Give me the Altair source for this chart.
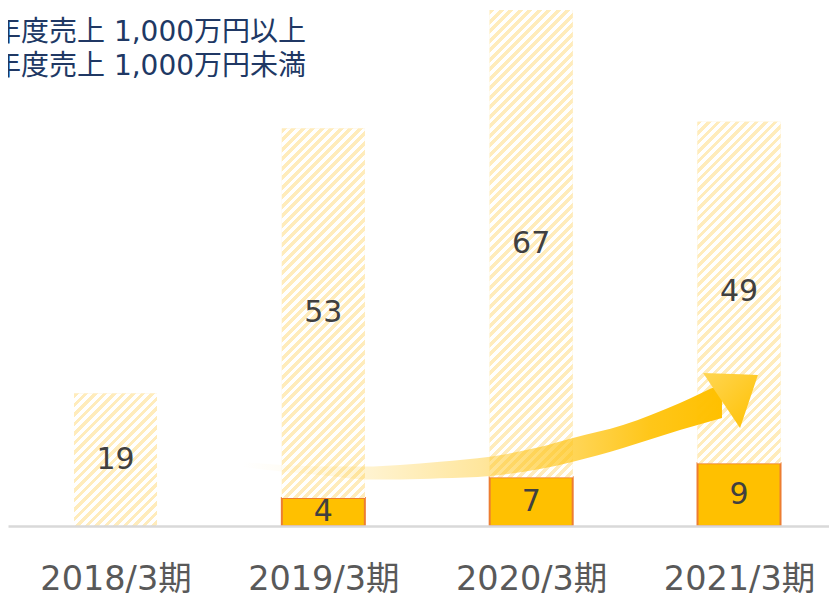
import json
import altair as alt
import pandas as pd

# ---------------- data ----------------
periods = ["2018/3期", "2019/3期", "2020/3期", "2021/3期"]
over_10m = [0, 4, 7, 9]        # 前年度売上 1,000万円以上
under_10m = [19, 53, 67, 49]   # 前年度売上 1,000万円未満
series_names = ["前年度売上 1,000万円以上", "前年度売上 1,000万円未満"]

# decorative growth arrow, in data units (x = period index, y = count)
arrow_x = [0.609, 0.801, 1.032, 1.200, 1.369, 1.561, 1.802, 2.042, 2.201, 2.442, 2.716, 2.918]
arrow_top = [9.18, 8.75, 8.53, 8.53, 8.75, 9.22, 9.94, 11.33, 12.62, 14.48, 17.64, 20.51]
arrow_bottom = [8.46, 7.82, 7.17, 6.67, 6.67, 6.84, 7.17, 8.17, 9.22, 11.19, 13.77, 15.49]
head_x = [2.827, 3.005, 3.091]
head_top = [21.94, 21.76, 21.66]
head_bottom = [21.94, 14.05, 21.66]

# ---------------- styling ----------------
W, H = 821, 518
X_DOMAIN = [-0.5173, 3.4330]
Y_MAX = 74.3
BAR_W = 83
PERIOD = 9.5
PALE = "#FFECBC"
SOLID = "#FFC000"
EDGE = "#ED7D31"
FONT = "DejaVu Sans, Noto Sans CJK JP"

rows = []
for i, p in enumerate(periods):
    if over_10m[i] > 0:
        rows.append(dict(period=p, idx=i, series=series_names[0], solid=True,
                         start=0, end=over_10m[i], mid=over_10m[i] / 2, value=over_10m[i]))
    if under_10m[i] > 0:
        rows.append(dict(period=p, idx=i, series=series_names[1], solid=False,
                         start=over_10m[i], end=over_10m[i] + under_10m[i],
                         mid=over_10m[i] + under_10m[i] / 2, value=under_10m[i]))
df = pd.DataFrame(rows)

xs = alt.Scale(domain=X_DOMAIN, nice=False, zero=False, padding=0)
ys = alt.Scale(domain=[0, Y_MAX], nice=False, zero=True, padding=0)

x_axis = alt.Axis(
    values=list(range(len(periods))),
    labelExpr=json.dumps(periods, ensure_ascii=False) + "[round(datum.value)]",
    title=None, ticks=False, tickSize=0, grid=False,
    domainColor="#D9D9D9", domainWidth=2.5,
    labelFontSize=33.5, labelColor="#595959", labelFont=FONT,
    labelBaseline="alphabetic",
    labelPadding=63, labelFlush=False, labelOverlap=False, zindex=1,
)

base = alt.Chart(df).mark_bar(width=BAR_W, strokeWidth=2).encode(
    x=alt.X("idx:Q", scale=xs, axis=x_axis),
    y=alt.Y("start:Q", scale=ys, axis=None),
    y2="end:Q",
    fill=alt.Fill(
        "series:N",
        scale=alt.Scale(domain=series_names, range=[SOLID, PALE]),
        legend=alt.Legend(
            orient="none", legendX=-79, legendY=10.5, title=None,
            symbolType="square", symbolSize=400, symbolStrokeWidth=0,
            labelFontSize=28, labelColor="#203864", labelFont=FONT,
            labelLimit=600, rowPadding=6, labelOffset=8, padding=0,
        ),
    ),
    stroke=alt.condition("datum.solid", alt.value(EDGE), alt.value("transparent")),
)

hatch_layers = []
for i, p in enumerate(periods):
    if under_10m[i] <= 0:
        continue
    h_px = under_10m[i] * H / Y_MAX
    r = h_px / BAR_W
    dt = PERIOD / BAR_W / (1 + r * r)
    stops = []
    k = 0
    while k * dt < 1:
        a, b, c = k * dt, (k + 0.5) * dt, (k + 1) * dt
        stops += [
            {"offset": min(a, 1), "color": PALE},
            {"offset": min(b, 1), "color": PALE},
            {"offset": min(b, 1), "color": "#FFFFFF"},
            {"offset": min(c, 1), "color": "#FFFFFF"},
        ]
        k += 1
    grad = {"gradient": "linear", "x1": 0, "y1": 0, "x2": 1, "y2": r, "stops": stops}
    layer = alt.Chart(df[(df.idx == i) & (~df.solid)]).mark_bar(width=BAR_W, fill=grad).encode(
        x=alt.X("idx:Q", scale=xs, axis=x_axis),
        y=alt.Y("start:Q", scale=ys, axis=None),
        y2="end:Q",
    )
    hatch_layers.append(layer)

shaft_grad = {
    "gradient": "linear", "x1": 0, "y1": 0, "x2": 1, "y2": 0,
    "stops": [
        {"offset": 0.0, "color": "rgba(255,200,40,0)"},
        {"offset": 0.1, "color": "rgba(255,200,40,0.05)"},
        {"offset": 0.25, "color": "rgba(255,198,30,0.2)"},
        {"offset": 0.5, "color": "rgba(255,195,20,0.42)"},
        {"offset": 0.7, "color": "rgba(255,194,10,0.7)"},
        {"offset": 0.85, "color": "rgba(255,192,0,0.9)"},
        {"offset": 1.0, "color": "rgba(255,192,0,1)"},
    ],
}
head_grad = {
    "gradient": "linear", "x1": 0, "y1": 0, "x2": 1, "y2": 1,
    "stops": [{"offset": 0, "color": "#FFD653"}, {"offset": 1, "color": "#FFC000"}],
}

arrow_df = pd.DataFrame({"ax": arrow_x, "at": arrow_top, "ab": arrow_bottom})
head_df = pd.DataFrame({"ax": head_x, "at": head_top, "ab": head_bottom})

shaft = alt.Chart(arrow_df).mark_area(interpolate="monotone", fill=shaft_grad).encode(
    x=alt.X("ax:Q", scale=xs, axis=x_axis),
    y=alt.Y("at:Q", scale=ys, axis=None),
    y2="ab:Q",
)
head = alt.Chart(head_df).mark_area(interpolate="linear", fill=head_grad).encode(
    x=alt.X("ax:Q", scale=xs, axis=x_axis),
    y=alt.Y("at:Q", scale=ys, axis=None),
    y2="ab:Q",
)

labels = alt.Chart(df).mark_text(fontSize=30, color="#404040", font=FONT, baseline="middle").encode(
    x=alt.X("idx:Q", scale=xs, axis=x_axis),
    y=alt.Y("mid:Q", scale=ys, axis=None),
    text="value:Q",
)

chart = alt.layer(base, *hatch_layers, shaft, head, labels).properties(
    width=W, height=H,
    padding={"left": 0, "top": 0, "right": 0, "bottom": 67},
    autosize=alt.AutoSizeParams(type="none"),
    background="white",
).configure_view(stroke=None)

chart.save("out.html", embed_options={"renderer": "svg", "actions": False})
